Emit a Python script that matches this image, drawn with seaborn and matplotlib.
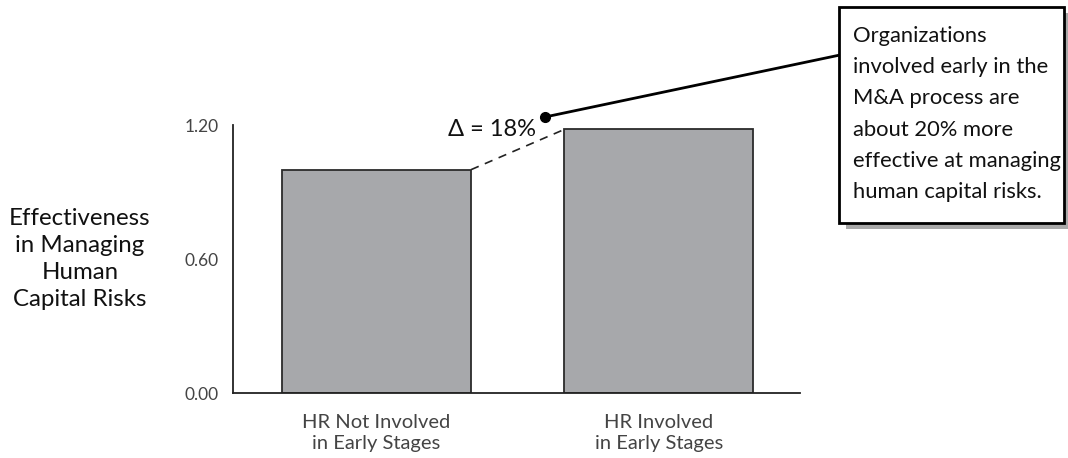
import matplotlib
matplotlib.use("Agg")
import matplotlib.pyplot as plt
from matplotlib.lines import Line2D
from matplotlib.patches import Rectangle
import seaborn as sns
import pandas as pd

# Data
categories = ["HR Not Involved\nin Early Stages", "HR Involved\nin Early Stages"]
effectiveness = [1.00, 1.18]
y_ticks = [0.00, 0.60, 1.20]
y_tick_labels = ["0.00", "0.60", "1.20"]
y_label = "Effectiveness\nin Managing\nHuman\nCapital Risks"
delta_label = "\u0394 = 18%"
callout = ("Organizations\ninvolved early in the\nM&A process are\n"
           "about 20% more\neffective at managing\nhuman capital risks.")

sns.set_style("white")
plt.rcParams["font.family"] = ["Lato", "DejaVu Sans"]

W, H = 1068, 458
fig = plt.figure(figsize=(W / 100, H / 100), dpi=100)
ax = fig.add_axes([233 / W, 1 - 393 / H, (800 - 233) / W, (393 - 125) / H])

df = pd.DataFrame({"group": categories, "value": effectiveness})
sns.barplot(data=df, x="group", y="value", ax=ax, color="#a7a8ab",
            saturation=1, width=0.67, edgecolor="#2b2b2b", linewidth=1.3)

ax.set_xlim(-0.508, 1.5)
ax.set_ylim(0, 1.2)
ax.set_yticks(y_ticks)
ax.set_yticklabels(y_tick_labels, fontsize=12.5, color="#444444")
ax.set_xticks(range(len(categories)))
ax.set_xticklabels(categories, fontsize=14.5, color="#444444", linespacing=1.3)
ax.tick_params(axis="y", direction="in", length=8, width=1.2, color="#222222", pad=10)
ax.tick_params(axis="x", length=0, pad=15)
ax.set_xlabel("")
ax.set_ylabel(y_label, rotation=0, ha="center", va="center", fontsize=17.3,
              linespacing=1.36, color="#111111")
ax.yaxis.set_label_coords(-0.27, 0.50)

for side in ["top", "right"]:
    ax.spines[side].set_visible(False)
for side in ["left", "bottom"]:
    ax.spines[side].set_color("#222222")
    ax.spines[side].set_linewidth(1.3)

# Dashed connector between the two bar tops
b0, b1 = ax.patches[0], ax.patches[1]
ax.plot([b0.get_x() + b0.get_width(), b1.get_x()],
        [b0.get_height(), b1.get_height()],
        ls=(0, (5, 4)), color="#222222", lw=1.2, clip_on=False)

ax.text(0.41, 1.178, delta_label, ha="center", va="center", fontsize=17,
        color="#111111", clip_on=False)

# Callout pointer
dot = (545 / W, 1 - 117 / H)
edge = (840 / W, 1 - 55 / H)
fig.add_artist(Line2D([dot[0], edge[0]], [dot[1], edge[1]], lw=2, color="black"))
fig.add_artist(Line2D([dot[0]], [dot[1]], marker="o", markersize=7,
                      color="black", lw=0))

# Callout box with drop shadow
bx0, by_top, bx1, by_bot = 839, 7, 1064, 223
fig.add_artist(Rectangle(((bx0 + 7) / W, 1 - (by_bot + 6) / H),
                         (bx1 - bx0) / W, (by_bot - by_top) / H,
                         transform=fig.transFigure, facecolor="#a9a9a9",
                         edgecolor="none", zorder=1))
fig.add_artist(Rectangle((bx0 / W, 1 - by_bot / H),
                         (bx1 - bx0) / W, (by_bot - by_top) / H,
                         transform=fig.transFigure, facecolor="white",
                         edgecolor="black", lw=2, zorder=2))
fig.text(853 / W, 1 - 26 / H, callout, ha="left", va="top", fontsize=15.8,
         linespacing=1.7, color="#111111", zorder=3)

fig.savefig("out.png", dpi=100)
